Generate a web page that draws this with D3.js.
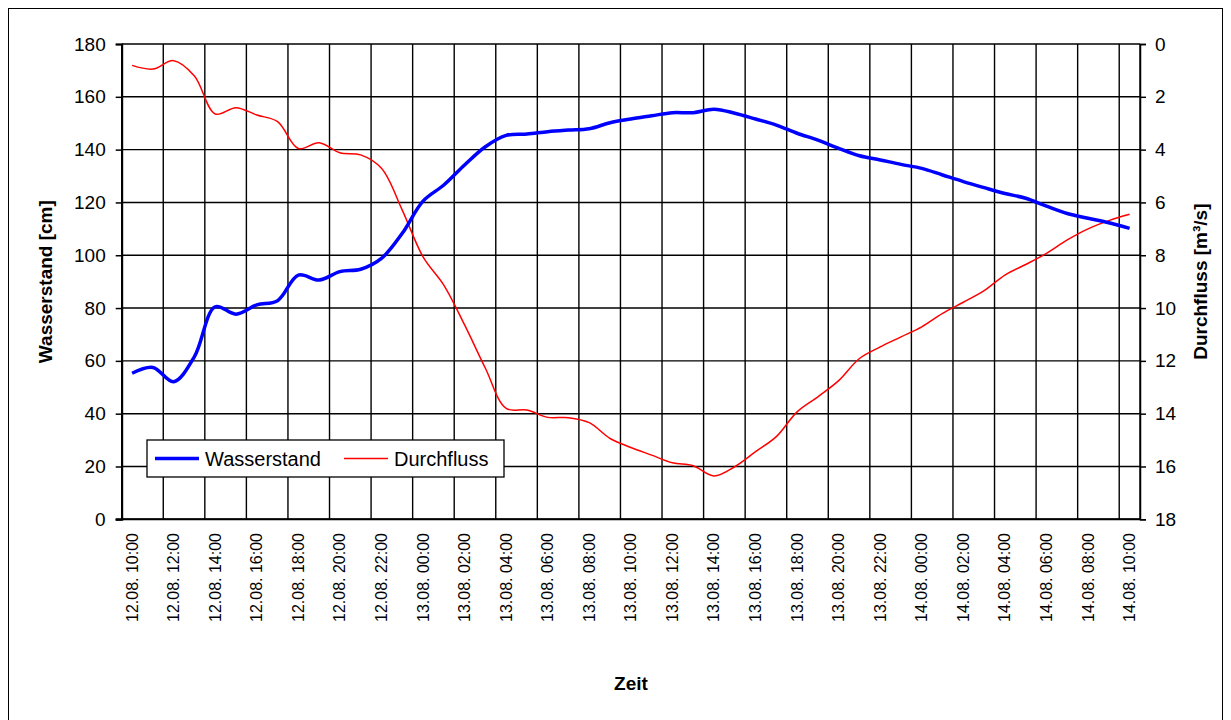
<!DOCTYPE html>
<html>
<head>
<meta charset="utf-8">
<script src="https://cdn.jsdelivr.net/npm/d3@7"></script>
<style>
  body { margin: 0; background: #fff; }
  svg { display: block; font-family: "Liberation Sans", Arial, sans-serif; }
</style>
</head>
<body>
<svg id="chart" width="1231" height="720"></svg>
<script>
// hourly readings, 12.08. 10:00 .. 14.08. 10:00
var xLabels = [
  "12.08. 10:00", "12.08. 12:00", "12.08. 14:00", "12.08. 16:00", "12.08. 18:00",
  "12.08. 20:00", "12.08. 22:00", "13.08. 00:00", "13.08. 02:00", "13.08. 04:00",
  "13.08. 06:00", "13.08. 08:00", "13.08. 10:00", "13.08. 12:00", "13.08. 14:00",
  "13.08. 16:00", "13.08. 18:00", "13.08. 20:00", "13.08. 22:00", "14.08. 00:00",
  "14.08. 02:00", "14.08. 04:00", "14.08. 06:00", "14.08. 08:00", "14.08. 10:00"
];

var wasserstand = [
  55.3, 57.5, 52.1, 61.6, 80.5, 77.7, 81.2, 82.8, 92.5, 90.6,
  93.8, 94.7, 98.8, 108.3, 120.5, 126.6, 134.2, 141.1, 145.4, 145.9,
  146.8, 147.4, 147.9, 150.2, 151.6, 152.8, 154.0, 154.0, 155.3, 153.8,
  151.6, 149.3, 146.2, 143.6, 140.5, 137.7, 136.1, 134.4, 132.9, 130.4,
  127.9, 125.6, 123.4, 121.6, 118.6, 115.8, 114.0, 112.3, 110.2
];

var durchfluss = [
  0.81, 0.95, 0.63, 1.21, 2.65, 2.41, 2.69, 2.94, 3.96, 3.74,
  4.12, 4.20, 4.71, 6.29, 8.06, 9.13, 10.64, 12.28, 13.80, 13.86,
  14.14, 14.15, 14.34, 14.94, 15.28, 15.57, 15.86, 15.97, 16.36, 16.01,
  15.44, 14.87, 13.93, 13.36, 12.75, 11.91, 11.47, 11.09, 10.71, 10.20,
  9.78, 9.34, 8.75, 8.35, 7.93, 7.42, 7.00, 6.69, 6.45
];

var leftTicks = [0, 20, 40, 60, 80, 100, 120, 140, 160, 180];
var rightTicks = [0, 2, 4, 6, 8, 10, 12, 14, 16, 18];

var svg = d3.select('#chart');
var m = { left: 121.7, right: 1140, top: 44, bottom: 519.3 };

// outer chart frame
svg.append('rect')
  .attr('x', 8.5).attr('y', 8.5)
  .attr('width', 1214).attr('height', 730)
  .attr('fill', 'none').attr('stroke', '#000').attr('stroke-width', 1);

var n = wasserstand.length;
var x = d3.scaleLinear().domain([-0.5, n - 0.5]).range([m.left, m.right]);
var yL = d3.scaleLinear().domain([0, 180]).range([m.bottom, m.top]);
var yR = d3.scaleLinear().domain([0, 18]).range([m.top, m.bottom]);

var g = svg.append('g');

// horizontal grid
g.selectAll('line.hgrid')
  .data(leftTicks)
  .enter().append('line')
  .attr('class', 'hgrid')
  .attr('x1', m.left).attr('x2', m.right)
  .attr('y1', d => yL(d)).attr('y2', d => yL(d))
  .attr('stroke', '#000').attr('stroke-width', 1.4);

// vertical grid at category boundaries, every 2 categories
var bounds = d3.range(0, n + 1, 2).map(i => i - 0.5);
bounds.push(n - 0.5);
g.selectAll('line.vgrid')
  .data(bounds)
  .enter().append('line')
  .attr('class', 'vgrid')
  .attr('x1', d => x(d)).attr('x2', d => x(d))
  .attr('y1', m.top).attr('y2', m.bottom)
  .attr('stroke', '#000').attr('stroke-width', 1.4);

// left axis
var axL = d3.axisLeft(yL).tickValues(leftTicks).tickSize(6).tickPadding(10);
var gL = svg.append('g').attr('transform', `translate(${m.left},0)`).call(axL);
gL.select('.domain').attr('stroke-width', 2);
gL.selectAll('.tick line').attr('stroke-width', 1.5);
gL.selectAll('text').attr('font-size', 19).attr('font-family', '"Liberation Sans", Arial, sans-serif').attr('fill', '#000');

// right axis
var axR = d3.axisRight(yR).tickValues(rightTicks).tickSize(6).tickPadding(9);
var gR = svg.append('g').attr('transform', `translate(${m.right},0)`).call(axR);
gR.select('.domain').attr('stroke-width', 1.5);
gR.selectAll('.tick line').attr('stroke-width', 1.5);
gR.selectAll('text').attr('font-size', 19).attr('font-family', '"Liberation Sans", Arial, sans-serif').attr('fill', '#000');

// bottom axis line
svg.append('line')
  .attr('x1', m.left - 6).attr('x2', m.right)
  .attr('y1', m.bottom).attr('y2', m.bottom)
  .attr('stroke', '#000').attr('stroke-width', 2);

// category labels, rotated
svg.append('g').selectAll('text')
  .data(xLabels)
  .enter().append('text')
  .attr('transform', (d, i) => `translate(${x(i * 2) + 5.5},533) rotate(-90)`)
  .attr('text-anchor', 'end')
  .attr('font-size', 16)
  .text(d => d);

// series
var curve = d3.curveCatmullRom.alpha(0.5);
var lineL = d3.line().x((d, i) => x(i)).y(d => yL(d)).curve(curve);
var lineR = d3.line().x((d, i) => x(i)).y(d => yR(d)).curve(curve);

svg.append('path').datum(durchfluss)
  .attr('d', lineR).attr('fill', 'none')
  .attr('stroke', '#ff0000').attr('stroke-width', 1.5);

svg.append('path').datum(wasserstand)
  .attr('d', lineL).attr('fill', 'none')
  .attr('stroke', '#0000ff').attr('stroke-width', 3.5)
  .attr('stroke-linejoin', 'round');

// axis titles
svg.append('text')
  .attr('transform', `translate(52,${(m.top + m.bottom) / 2}) rotate(-90)`)
  .attr('text-anchor', 'middle').attr('font-weight', 'bold').attr('font-size', 19)
  .text('Wasserstand [cm]');

svg.append('text')
  .attr('transform', `translate(1207,${(m.top + m.bottom) / 2}) rotate(-90)`)
  .attr('text-anchor', 'middle').attr('font-weight', 'bold').attr('font-size', 19)
  .text('Durchfluss [m³/s]');

svg.append('text')
  .attr('x', 631).attr('y', 690)
  .attr('text-anchor', 'middle').attr('font-weight', 'bold').attr('font-size', 19)
  .text('Zeit');

// legend
var lg = svg.append('g').attr('transform', 'translate(147,440)');
lg.append('rect')
  .attr('width', 357).attr('height', 37)
  .attr('fill', '#fff').attr('stroke', '#000').attr('stroke-width', 1.3);
var items = [
  { name: 'Wasserstand', color: '#0000ff', w: 3.5, x0: 8 },
  { name: 'Durchfluss', color: '#ff0000', w: 1.5, x0: 197 }
];
items.forEach(function (it) {
  lg.append('line')
    .attr('x1', it.x0).attr('x2', it.x0 + 44)
    .attr('y1', 18.5).attr('y2', 18.5)
    .attr('stroke', it.color).attr('stroke-width', it.w);
  lg.append('text')
    .attr('x', it.x0 + 50).attr('y', 26)
    .attr('font-size', 20)
    .text(it.name);
});
</script>
</body>
</html>
